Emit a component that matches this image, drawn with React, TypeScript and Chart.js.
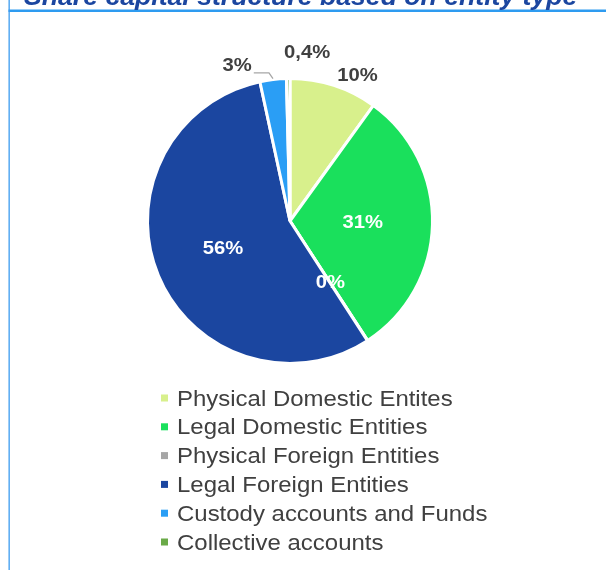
import React, { useEffect, useRef } from "react";
import { Chart, registerables } from "chart.js";

Chart.register(...registerables);

const TITLE = "Share capital structure based on entity type";
const categories = [
  "Physical Domestic Entites",
  "Legal Domestic Entities",
  "Physical Foreign Entities",
  "Legal Foreign Entities",
  "Custody accounts and Funds",
  "Collective accounts",
];
const shares = [10, 31, 0.04, 56, 3, 0.4];
const shareLabels = ["10%", "31%", "0%", "56%", "3%", "0,4%"];
const sliceColors = ["#d8f08c", "#1ae05c", "#a6a6a6", "#1b46a0", "#2a9ef5", "#6aaa48"];

// label placement: inside (radius fraction) or outside (radius fraction + angle shift in degrees)
const placement = [
  { out: true, rf: 1.125, da: 7, leader: false },
  { out: false, rf: 0.51, da: 0, leader: false },
  { out: false, rf: 0.52, da: 0, leader: false },
  { out: false, rf: 0.51, da: 0, leader: false },
  { out: true, rf: 1.15, da: -12, leader: true },
  { out: true, rf: 1.19, da: 6.5, leader: false },
];

const SX = 1.065; // horizontal text stretch seen in the reference

function stretchedText(ctx: any, text: string, x: number, y: number) {
  ctx.save();
  ctx.translate(x, y);
  ctx.scale(SX, 1);
  ctx.fillText(text, 0, 0);
  ctx.restore();
}

const framePlugin = {
  id: "frame",
  beforeDraw(chart: any) {
    const ctx = chart.ctx;
    ctx.save();
    ctx.fillStyle = "#ffffff";
    ctx.fillRect(0, 0, chart.width, chart.height);
    ctx.fillStyle = "#2e9bf0";
    ctx.fillRect(8.5, 9.5, chart.width, 2.5);
    ctx.fillStyle = "#3c9cf0";
    ctx.fillRect(8.5, 0, 1.3, chart.height);
    ctx.font = "italic bold 25px 'Liberation Sans', Arial, sans-serif";
    ctx.fillStyle = "#1b46a0";
    ctx.textAlign = "left";
    ctx.textBaseline = "alphabetic";
    stretchedText(ctx, TITLE, 24, 5);
    ctx.restore();
  },
};

const labelsPlugin = {
  id: "sliceLabels",
  afterDatasetsDraw(chart: any) {
    const ctx = chart.ctx;
    const meta = chart.getDatasetMeta(0);
    ctx.save();
    ctx.font = "bold 19px 'Liberation Sans', Arial, sans-serif";
    ctx.textAlign = "center";
    ctx.textBaseline = "middle";
    meta.data.forEach((arc: any, i: number) => {
      const p = placement[i];
      const { x, y, startAngle, endAngle, outerRadius } = arc.getProps(
        ["x", "y", "startAngle", "endAngle", "outerRadius"],
        true
      );
      const mid = (startAngle + endAngle) / 2;
      const a = mid + (p.da * Math.PI) / 180;
      const lx = x + Math.cos(a) * outerRadius * p.rf;
      const ly = y + Math.sin(a) * outerRadius * p.rf;
      ctx.fillStyle = p.out ? "#404040" : "#ffffff";
      stretchedText(ctx, shareLabels[i], lx, ly);
      if (p.leader) {
        const w = ctx.measureText(shareLabels[i]).width * SX;
        const ex = x + Math.cos(mid) * (outerRadius + 1);
        const ey = y + Math.sin(mid) * (outerRadius + 1);
        const sy = ly + 7;
        ctx.beginPath();
        ctx.strokeStyle = "#a6a6a6";
        ctx.lineWidth = 1.3;
        ctx.moveTo(lx + w / 2 + 2, sy);
        ctx.lineTo(ex - 4, sy);
        ctx.lineTo(ex, ey);
        ctx.stroke();
      }
    });
    ctx.restore();
  },
};

const legendPlugin = {
  id: "columnLegend",
  afterDraw(chart: any) {
    const ctx = chart.ctx;
    const ds = chart.data.datasets[0];
    const left = 161;
    const top = 398;
    const step = 28.8;
    ctx.save();
    ctx.font = "22.5px 'Liberation Sans', Arial, sans-serif";
    ctx.textAlign = "left";
    ctx.textBaseline = "alphabetic";
    (chart.data.labels as string[]).forEach((lab, i) => {
      const cy = top + i * step;
      ctx.fillStyle = ds.backgroundColor[i];
      ctx.fillRect(left, cy - 3.5, 7, 7);
      ctx.fillStyle = "#404040";
      stretchedText(ctx, lab, left + 16, cy + 7.5);
    });
    ctx.restore();
  },
};

export default function App() {
  const ref = useRef<HTMLCanvasElement>(null);
  useEffect(() => {
    if (!ref.current) return;
    const chart = new Chart(ref.current, {
      type: "pie",
      data: {
        labels: categories,
        datasets: [
          {
            data: shares,
            backgroundColor: sliceColors,
            borderColor: "#ffffff",
            borderWidth: 3,
            hoverOffset: 0,
          },
        ],
      },
      options: {
        responsive: false,
        animation: false,
        layout: { padding: { left: 146, right: 172, top: 77, bottom: 205 } },
        plugins: {
          legend: { display: false },
          tooltip: { enabled: false },
          title: { display: false },
        },
      },
      plugins: [framePlugin, labelsPlugin, legendPlugin],
    });
    return () => chart.destroy();
  }, []);
  return (
    <div style={{ position: "fixed", left: 0, top: 0, width: 606, height: 570, background: "#fff" }}>
      <canvas ref={ref} width={606} height={570} style={{ display: "block" }} />
    </div>
  );
}
